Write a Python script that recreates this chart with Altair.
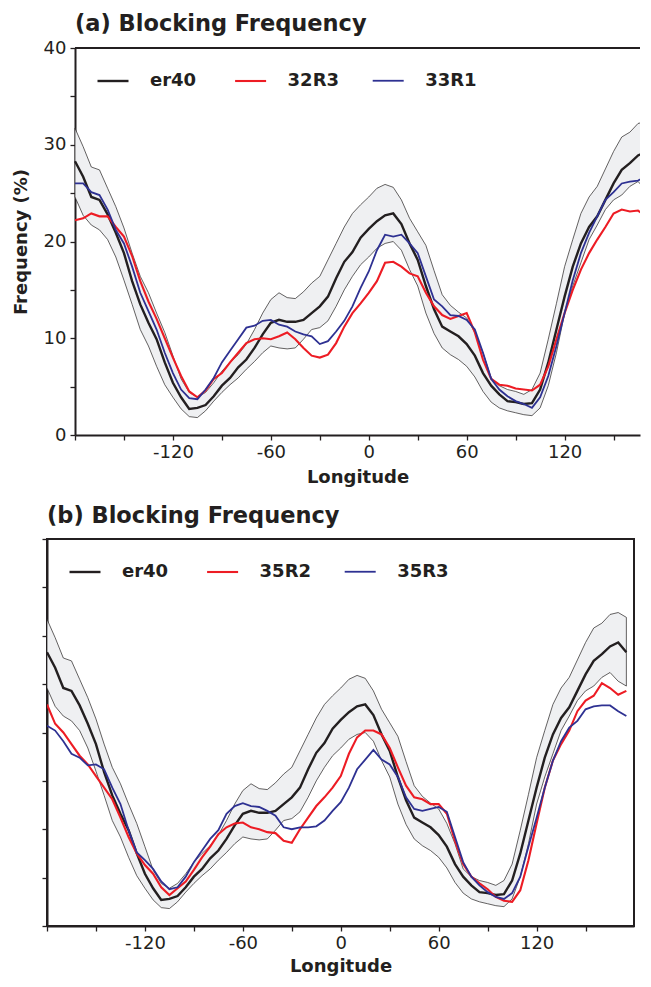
import altair as alt
import pandas as pd

# ---------------- data ----------------
lon = list(range(-180, 180, 5))

er40 = [28.3, 26.7, 24.6, 24.3, 22.8, 20.9, 18.8, 15.9, 13.5, 11.6,
        9.9, 7.5, 5.4, 3.9, 2.7, 2.8, 3.1, 4.0, 5.1, 5.9,
        7.0, 7.8, 9.0, 10.4, 11.6, 11.9, 11.7, 11.7, 11.9, 12.6,
        13.3, 14.3, 16.2, 17.9, 18.9, 20.4, 21.3, 22.1, 22.7, 22.9,
        21.8, 19.8, 18.1, 15.4, 13.0, 11.2, 10.7, 10.2, 9.4, 8.2,
        6.4, 5.1, 4.2, 3.5, 3.4, 3.2, 3.3, 4.7, 7.5, 10.9,
        14.3, 17.4, 19.8, 21.5, 22.6, 24.3, 26.0, 27.4, 28.1, 28.9,
        29.3, 28.3]

er40_hi = [31.7, 29.8, 27.7, 27.4, 25.5, 23.6, 21.4, 18.8, 16.4, 14.7,
           12.6, 10.6, 8.2, 5.8, 4.4, 3.9, 4.4, 5.4, 6.6, 7.5,
           8.3, 9.4, 10.9, 12.6, 14.0, 14.7, 14.2, 14.1, 14.8, 15.7,
           16.4, 18.1, 19.8, 21.5, 22.9, 23.8, 24.6, 25.5, 25.9, 25.6,
           24.3, 22.4, 21.0, 19.6, 17.0, 14.5, 13.4, 12.7, 12.1, 10.6,
           8.5, 5.9, 5.1, 4.7, 4.5, 4.2, 4.7, 6.4, 9.9, 13.6,
           17.4, 20.2, 22.9, 24.6, 25.7, 27.5, 29.3, 30.8, 31.3, 32.2,
           32.4, 31.9]

er40_lo = [24.6, 22.7, 21.7, 21.2, 20.2, 18.4, 16.0, 13.5, 10.9, 9.2,
           7.1, 5.2, 3.9, 2.7, 1.9, 1.8, 2.5, 3.5, 4.4, 5.2,
           5.9, 6.8, 7.6, 8.5, 9.2, 9.0, 8.9, 9.0, 9.9, 10.9,
           11.1, 11.8, 13.3, 15.0, 16.4, 17.6, 18.4, 19.3, 19.8, 20.0,
           19.1, 17.1, 15.4, 12.6, 10.5, 9.0, 8.3, 7.8, 7.1, 6.0,
           4.5, 3.4, 2.8, 2.5, 2.3, 2.1, 2.0, 2.8, 5.1, 8.5,
           12.6, 15.4, 17.8, 20.2, 21.7, 23.3, 24.3, 24.8, 25.7, 26.2,
           25.3, 24.8]

run_32r3 = [22.2, 22.4, 22.9, 22.6, 22.6, 21.5, 20.5, 18.5, 15.9, 13.8,
            12.0, 10.0, 8.0, 6.1, 4.5, 3.9, 4.6, 5.8, 6.4, 7.5,
            8.5, 9.5, 9.9, 10.0, 9.9, 10.2, 10.6, 9.9, 9.0, 8.2,
            8.0, 8.3, 9.5, 11.2, 12.6, 13.6, 14.7, 15.9, 17.8, 17.9,
            17.4, 16.7, 16.4, 14.7, 13.3, 12.4, 12.0, 12.3, 12.6, 10.6,
            7.8, 5.8, 5.2, 5.1, 4.8, 4.7, 4.6, 5.2, 7.1, 9.9,
            12.6, 15.0, 17.1, 18.8, 20.2, 21.5, 22.9, 23.3, 23.1, 23.2,
            22.6, 22.4]

run_33r1 = [26.0, 26.0, 25.1, 24.8, 23.3, 21.2, 19.8, 17.4, 14.7, 12.8,
            10.9, 8.5, 6.4, 4.7, 3.8, 3.7, 4.7, 5.9, 7.5, 8.7,
            9.9, 11.1, 11.3, 11.8, 11.9, 11.4, 11.2, 10.7, 10.4, 10.2,
            9.4, 9.7, 10.7, 11.8, 13.3, 15.2, 16.9, 19.1, 20.7, 20.5,
            20.7, 19.8, 18.8, 16.4, 14.0, 13.3, 12.4, 12.3, 11.9, 10.9,
            8.5, 5.8, 4.7, 4.0, 3.5, 3.2, 2.8, 3.9, 6.1, 9.2,
            12.6, 16.0, 18.8, 20.9, 22.6, 24.3, 25.1, 26.0, 26.2, 26.3,
            26.7, 26.7]

run_35r2 = [22.9, 20.9, 20.0, 18.8, 17.6, 16.7, 15.5, 14.3, 13.1, 11.2,
            9.2, 7.5, 6.3, 5.4, 4.0, 3.2, 3.9, 4.6, 5.8, 7.1,
            8.2, 9.5, 10.2, 10.6, 10.7, 10.2, 10.0, 9.7, 9.6, 8.8,
            8.6, 10.0, 11.2, 12.4, 13.3, 14.3, 15.5, 17.8, 19.5, 20.2,
            20.2, 19.8, 18.4, 16.4, 14.5, 13.3, 13.1, 12.6, 12.6, 11.6,
            8.8, 6.4, 5.1, 4.4, 3.8, 3.0, 2.6, 2.5, 3.7, 6.8,
            10.6, 14.3, 17.1, 18.8, 20.2, 22.2, 23.3, 23.8, 25.1, 24.6,
            23.9, 24.3]

run_35r3 = [20.7, 20.2, 19.1, 17.8, 17.4, 16.6, 16.7, 16.2, 14.3, 12.6,
            9.9, 7.6, 6.8, 5.9, 4.6, 3.8, 4.0, 5.1, 6.6, 7.8,
            9.0, 9.9, 11.6, 12.4, 12.7, 12.4, 12.3, 11.9, 11.4, 10.2,
            10.0, 10.2, 10.2, 10.3, 10.9, 11.9, 12.8, 14.3, 16.2, 17.2,
            18.2, 17.2, 16.7, 15.4, 13.3, 12.1, 11.9, 12.1, 12.3, 11.8,
            9.2, 6.6, 5.1, 4.2, 3.5, 3.0, 2.8, 3.4, 5.1, 8.2,
            11.2, 14.3, 17.1, 19.1, 20.5, 21.2, 22.4, 22.7, 22.8, 22.8,
            22.2, 21.7]

x_ticks = list(range(-180, 181, 30))
y_ticks = list(range(0, 41, 5))

# ---------------- style ----------------
FONT = "DejaVu Sans"
INK = "#231f20"
RED = "#ed1c24"
BLUE = "#2e3192"
BAND = "#eff0f2"
PX_PER_DEG = 1.632
PLOT_H = 387


def panel(title, names, series, group_w, inset, show_ylab, xtitle_pad, title_off):
    band = pd.DataFrame({"lon": lon, "hi": er40_hi, "lo": er40_lo})
    rows = []
    for name, vals in zip(names, series):
        for lo_, v in zip(lon, vals):
            rows.append({"lon": lo_, "freq": v, "run": name})
    lines = pd.DataFrame(rows)

    xmax = -180 + (group_w - inset) / PX_PER_DEG
    xvals = [v for v in x_ticks if v <= xmax + 0.01]
    xscale = alt.Scale(domain=[-180, xmax], range=[inset, group_w],
                       nice=False, zero=False)
    yscale = alt.Scale(domain=[0, 40], nice=False, zero=False)

    common = dict(labelFont=FONT, labelFontSize=18, labelColor=INK,
                  tickColor=INK, tickWidth=1.3, tickSize=5,
                  domainColor=INK, domainWidth=2, grid=False,
                  labelOverlap=False, labelFlush=False,
                  titleFont=FONT, titleFontSize=18, titleFontWeight="bold",
                  titleColor=INK)
    xaxis = alt.Axis(values=xvals,
                     labelExpr="abs(datum.value) % 60 == 0 && abs(datum.value) < 180 ? '' + datum.value : ''",
                     title="Longitude", labelPadding=3, titlePadding=xtitle_pad,
                     **common)
    if show_ylab:
        yaxis = alt.Axis(values=y_ticks,
                         labelExpr="datum.value % 10 == 0 ? '' + datum.value : ''",
                         title="Frequency (%)", labelPadding=4, titlePadding=13,
                         offset=-inset, **common)
    else:
        yaxis = alt.Axis(values=y_ticks, labels=False, title=None,
                         offset=-inset, **common)

    x = alt.X("lon:Q", scale=xscale, axis=xaxis)

    area = alt.Chart(band).mark_area(
        fill=BAND, stroke=INK, strokeWidth=0.7, clip=True
    ).encode(x=x, y=alt.Y("lo:Q", scale=yscale, axis=yaxis), y2="hi:Q")

    line = alt.Chart(lines).mark_line(clip=True).encode(
        x=x,
        y=alt.Y("freq:Q", scale=yscale, axis=yaxis),
        color=alt.Color("run:N", sort=names,
                        scale=alt.Scale(domain=names, range=[INK, RED, BLUE]),
                        legend=alt.Legend(
                            orient="none", legendX=inset + 21, legendY=16,
                            direction="horizontal", title=None,
                            columns=3, gridAlign="all",
                            symbolType="stroke", symbolSize=961,
                            symbolStrokeWidth=2,
                            labelFont=FONT, labelFontSize=18,
                            labelFontWeight="bold", labelColor=INK,
                            labelOffset=20, columnPadding=28.6)),
        strokeWidth=alt.StrokeWidth("run:N",
                                    scale=alt.Scale(domain=names, range=[2.4, 1.8, 1.8]),
                                    legend=None),
        detail="run:N",
    )

    layers = [area, line]
    if show_ylab:
        top = alt.Chart(pd.DataFrame({"k": [0]})).mark_rule(
            color=INK, strokeWidth=1.8
        ).encode(x=alt.value(inset), x2=alt.value(group_w), y=alt.value(0))
        layers.append(top)
        view = alt.ViewBackground(stroke="transparent", strokeWidth=0)
    else:
        view = alt.ViewBackground(stroke=INK, strokeWidth=2)

    return alt.layer(*layers).properties(
        width=group_w, height=PLOT_H,
        title=alt.TitleParams(title, anchor="start", frame="group",
                              font=FONT, fontSize=22.5, fontWeight="bold",
                              color=INK, offset=title_off, dx=inset),
        view=view,
    )


pa = panel("(a) Blocking Frequency", ["er40", "32R3", "33R1"],
           [er40, run_32r3, run_33r1], 593, 28, True, 7, 4)
pb = panel("(b) Blocking Frequency", ["er40", "35R2", "35R3"],
           [er40, run_35r2, run_35r3], 587, 0, False, 5, 11)

chart = alt.vconcat(pa, pb, spacing=17).resolve_scale(
    color="independent", strokeWidth="independent"
).resolve_legend(color="independent").properties(
    padding={"left": 4, "top": 4, "right": 0, "bottom": 0}
).configure(background="white")

chart.save("out.html", embed_options={"renderer": "svg", "actions": False})
